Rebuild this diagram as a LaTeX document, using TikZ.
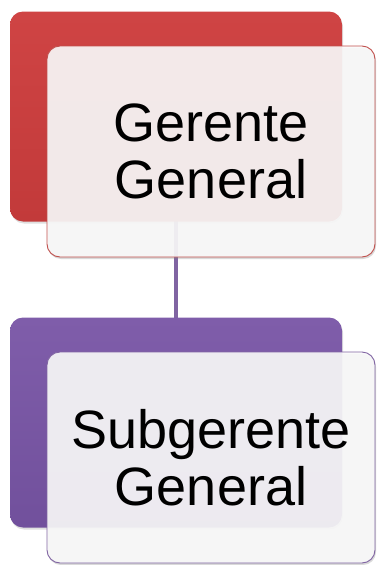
\documentclass[tikz,border=0pt]{standalone}
\usepackage{fontspec}
\setmainfont{Liberation Sans}
\usepackage{tikz}
\usetikzlibrary{positioning,shadows}
\definecolor{rojoFondo}{HTML}{C23A3A}
\definecolor{rojoClaro}{HTML}{CF4444}
\definecolor{rojoBorde}{HTML}{C0504D}
\definecolor{moradoFondo}{HTML}{71509C}
\definecolor{moradoClaro}{HTML}{7F5DAA}
\definecolor{moradoBorde}{HTML}{8064A2}

\begin{document}
\begin{tikzpicture}[x=1pt, y=-1pt,
			fondo/.style={
					rectangle,
					rounded corners=13pt,
					minimum width=332pt,
					minimum height=210pt,
					inner sep=0pt,
					drop shadow={opacity=0.25, shadow xshift=1pt, shadow yshift=-2pt}
				},
			frente/.style={
					rectangle,
					draw,
					line width=0.9pt,
					fill=gray!4,
					fill opacity=0.9,
					text opacity=1,
					rounded corners=13pt,
					minimum width=328pt,
					minimum height=211pt,
					inner sep=0pt,
					align=center,
					font=\fontsize{54}{57}\selectfont,
					drop shadow={opacity=0.3, shadow xshift=1pt, shadow yshift=-2pt}
				},
			line/.style={draw, line width=3.2pt, color=moradoBorde}
		]
		\useasboundingbox (0,0) rectangle (378,565);
		% Place nodes
		\coordinate (arriba) at (176,116.5);
		\coordinate (abajo) at (176,422.5);
		\path [line] (arriba) -- (abajo);
		\node [fondo, top color=rojoClaro, bottom color=rojoFondo] (gerenteFondo) at (arriba) {};
		\node [frente, draw=rojoBorde] (gerente) at ([shift={(35,35)}]gerenteFondo) {Gerente\\General};
		\node [fondo, top color=moradoClaro, bottom color=moradoFondo] (subgerenteFondo) at (abajo) {};
		\node [frente, draw=moradoBorde] (subgerente) at ([shift={(35,35)}]subgerenteFondo) {Subgerente\\General};
	\end{tikzpicture}
\end{document}
